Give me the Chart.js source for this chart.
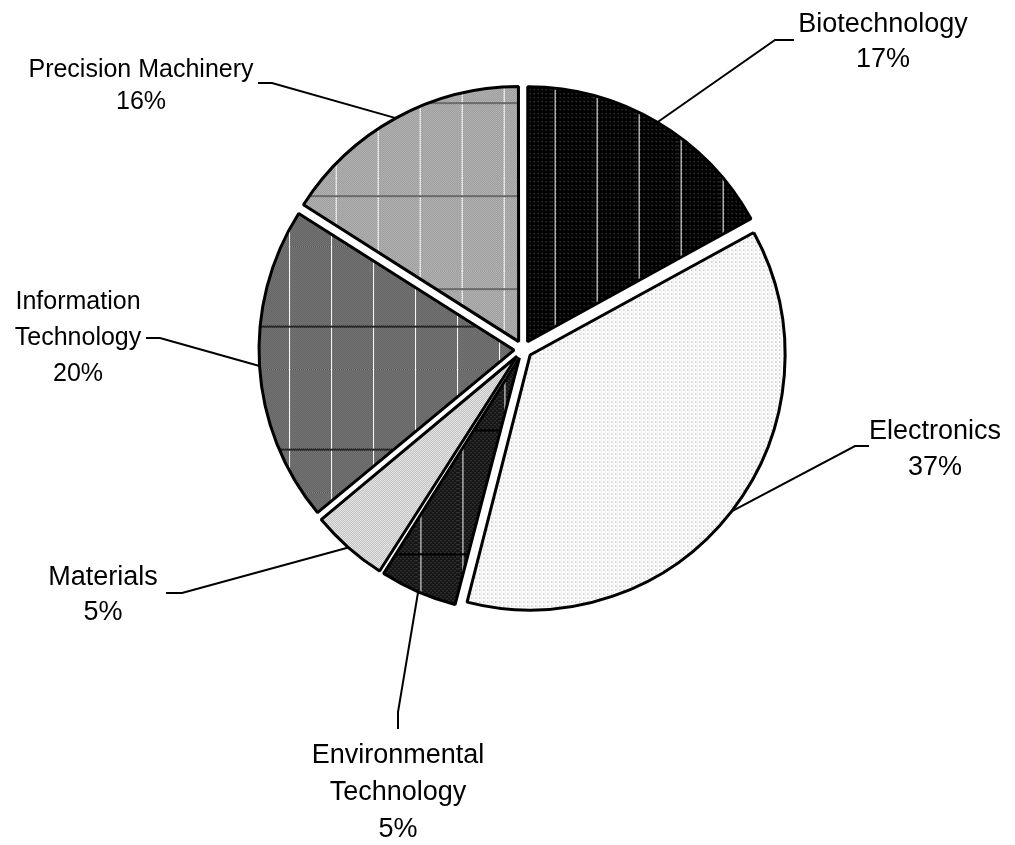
<!DOCTYPE html>
<html>
<head>
<meta charset="utf-8">
<title>Industry share</title>
<script src="https://cdn.jsdelivr.net/npm/chart.js@4.4.1/dist/chart.umd.min.js"></script>
<style>
  html, body { margin: 0; padding: 0; background: #fff; }
  canvas { display: block; }
</style>
</head>
<body>
<canvas id="industryChart" width="1015" height="845"></canvas>
<script>
// Industries, clockwise from 12 o'clock
const industries = ['Biotechnology', 'Electronics', 'Environmental Technology', 'Materials', 'Information Technology', 'Precision Machinery'];
const shares = [17, 37, 5, 5, 20, 16];
// how each name wraps in its label
const labelLines = [
    ['Biotechnology'],
    ['Electronics'],
    ['Environmental', 'Technology'],
    ['Materials'],
    ['Information', 'Technology'],
    ['Precision Machinery']
];

// where each label sits: elbow of the leader line, its end, text centre, first line y
const labelLayout = [
    { elbow: [775, 40], end: [794, 40], x: 883, y: 25, gap: 35, size: 27 },
    { elbow: [855, 446], end: [869, 446], x: 935, y: 432, gap: 36, size: 27 },
    { elbow: [398, 712], end: [398, 729], x: 398, y: 756, gap: 37, size: 27 },
    { elbow: [182, 593], end: [166, 593], x: 103, y: 578, gap: 35, size: 27 },
    { elbow: [160, 338], end: [146, 338], x: 78, y: 302, gap: 36, size: 25 },
    { elbow: [272, 83], end: [258, 83], x: 141, y: 70, gap: 32, size: 25 }
];

const EXPLODE = 36; // Chart.js moves a slice by offset / 4

// small bitmap tiles used as slice fills
function makeTile(w, h, paint) {
    const c = document.createElement('canvas');
    c.width = w;
    c.height = h;
    const g = c.getContext('2d');
    paint(g, w, h);
    return document.getElementById('industryChart').getContext('2d').createPattern(c, 'repeat');
}

function dots(g, w, h, bg, dot, test) {
    g.fillStyle = bg;
    g.fillRect(0, 0, w, h);
    g.fillStyle = dot;
    for (let y = 0; y < h; y++) {
        for (let x = 0; x < w; x++) {
            if (test(x, y)) g.fillRect(x, y, 1, 1);
        }
    }
}

function stripes(g, w, h, hLineY, hColor) {
    g.fillStyle = '#ffffff';
    g.fillRect(4, 0, 1, h);
    if (hLineY !== null) {
        g.fillStyle = hColor;
        g.fillRect(0, hLineY, w, 2);
    }
}

const fills = [
    // Biotechnology: black with grey dots, white verticals
    makeTile(42, 4, (g, w, h) => {
        dots(g, w, h, '#000000', '#6a6a6a', (x, y) => x % 4 === 1 && y % 4 === 1);
        stripes(g, w, h, null);
    }),
    // Electronics: white with sparse grey dots
    makeTile(4, 4, (g, w, h) => {
        dots(g, w, h, '#ffffff', '#9a9a9a', (x, y) => x % 4 === 0 && y % 4 === 0);
        g.fillStyle = '#cfcfcf';
        g.fillRect(1, 0, 1, 1);
        g.fillRect(2, 2, 1, 1);
    }),
    // Environmental Technology: near black, grey dots, white verticals
    makeTile(42, 124, (g, w, h) => {
        dots(g, w, h, '#151515', '#5e5e5e', (x, y) => x % 2 === 0 && y % 2 === 0 && (x + y) % 4 === 0);
        stripes(g, w, h, 49, '#000000');
    }),
    // Materials: light grey checker
    makeTile(2, 2, (g, w, h) => {
        dots(g, w, h, '#f4f4f4', '#b4b4b4', (x, y) => (x + y) % 2 === 0);
    }),
    // Information Technology: dark grey checker, white verticals, dark horizontals
    makeTile(42, 123, (g, w, h) => {
        dots(g, w, h, '#8c8c8c', '#4c4c4c', (x, y) => (x + y) % 2 === 0);
        stripes(g, w, h, 79, '#262626');
    }),
    // Precision Machinery: mid grey checker, white verticals, grey horizontals
    makeTile(42, 93, (g, w, h) => {
        dots(g, w, h, '#c6c6c6', '#8a8a8a', (x, y) => (x + y) % 2 === 0);
        stripes(g, w, h, 17, '#6a6a6a');
    })
];

// Chart.js grows small exploded slices a little; undo that so all share one radius
const evenRadius = {
    id: 'evenRadius',
    beforeDatasetsDraw(chart) {
        chart.getDatasetMeta(0).data.forEach(arc => {
            const fix = 1 - Math.sin(Math.min(Math.PI, arc.circumference));
            arc._savedR = arc.outerRadius;
            arc.outerRadius = arc.outerRadius - (EXPLODE / 4) * fix;
        });
    },
    afterDatasetsDraw(chart) {
        chart.getDatasetMeta(0).data.forEach(arc => {
            arc.outerRadius = arc._savedR;
        });
    }
};

// leader lines from each slice edge to its label
const leaderLabels = {
    id: 'leaderLabels',
    afterDraw(chart) {
        const ctx = chart.ctx;
        const meta = chart.getDatasetMeta(0);
        const total = shares.reduce((a, b) => a + b, 0);
        ctx.save();
        meta.data.forEach((arc, i) => {
            const lay = labelLayout[i];
            const mid = (arc.startAngle + arc.endAngle) / 2;
            const r = arc.outerRadius + EXPLODE / 4;
            const sx = arc.x + Math.cos(mid) * r;
            const sy = arc.y + Math.sin(mid) * r;

            ctx.strokeStyle = '#000';
            ctx.lineWidth = 2;
            ctx.beginPath();
            ctx.moveTo(sx, sy);
            ctx.lineTo(lay.elbow[0], lay.elbow[1]);
            ctx.lineTo(lay.end[0], lay.end[1]);
            ctx.stroke();

            ctx.fillStyle = '#000';
            ctx.textAlign = 'center';
            ctx.textBaseline = 'middle';
            ctx.font = lay.size + 'px "Liberation Sans", Arial, sans-serif';
            const lines = labelLines[i].concat([Math.round(shares[i] / total * 100) + '%']);
            lines.forEach((t, k) => ctx.fillText(t, lay.x, lay.y + k * lay.gap));
        });
        ctx.restore();
    }
};

new Chart(document.getElementById('industryChart'), {
    type: 'pie',
    data: {
        labels: industries,
        datasets: [{
            data: shares,
            backgroundColor: fills,
            borderColor: '#000000',
            borderWidth: 3,
            hoverBorderWidth: 3,
            offset: EXPLODE,
            hoverOffset: EXPLODE
        }]
    },
    options: {
        responsive: false,
        animation: false,
        events: [],
        layout: {
            padding: { top: 75, bottom: 221, left: 223, right: 192 }
        },
        plugins: {
            legend: { display: false },
            tooltip: { enabled: false }
        }
    },
    plugins: [evenRadius, leaderLabels]
});
</script>
</body>
</html>
